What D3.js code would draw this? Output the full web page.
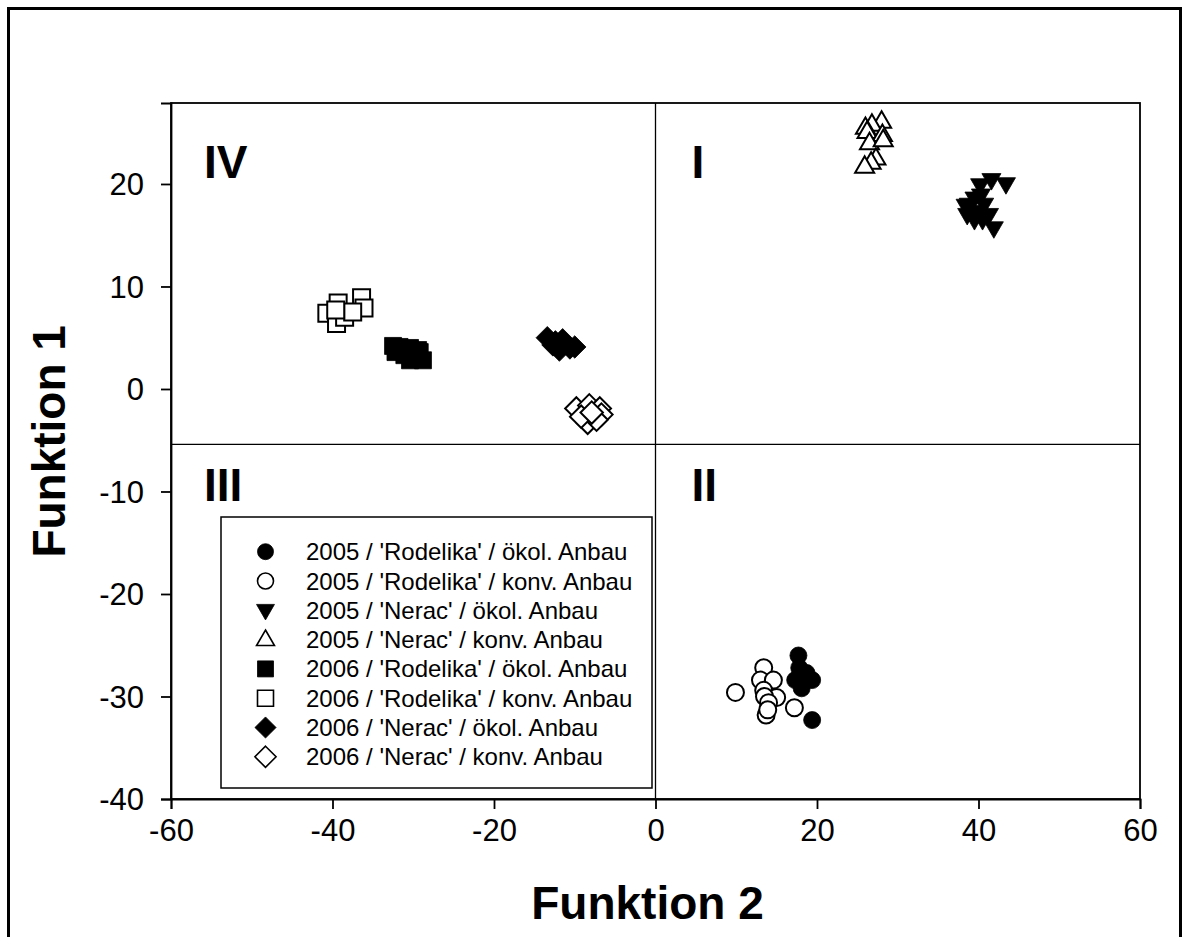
<!DOCTYPE html>
<html>
<head>
<meta charset="utf-8">
<script src="https://cdn.jsdelivr.net/npm/d3@7"></script>
<style>
  html, body { margin: 0; padding: 0; background: #fff; }
  svg { display: block; font-family: "Liberation Sans", Arial, sans-serif; }
</style>
</head>
<body>
<svg id="chart" width="1189" height="937"></svg>
<script>
// Discriminant scores (Funktion 2 on x, Funktion 1 on y) per group
const rodelika05Oeko = [[17.7,-26.0],[17.8,-27.2],[18.7,-27.7],[17.3,-28.4],[19.4,-28.4],[18.1,-29.2],[19.4,-32.3]];
const rodelika05Konv = [[9.9,-29.6],[13.4,-27.2],[13.0,-28.4],[14.6,-28.4],[13.4,-29.4],[15.0,-30.1],[13.5,-30.0],[14.0,-30.6],[13.7,-31.8],[17.2,-31.1],[13.9,-31.3]];
const nerac05Oeko = [[41.6,20.4],[40.2,19.9],[43.4,20.0],[39.5,18.6],[38.8,18.0],[40.7,18.0],[40.3,18.9],[39.8,17.3],[38.6,17.0],[41.3,17.0],[39.5,16.5],[40.5,16.5],[41.9,15.7],[38.4,17.9]];
const nerac05Konv = [[28.0,26.1],[26.8,25.8],[26.0,25.5],[26.2,25.1],[28.1,24.8],[26.5,24.0],[28.2,24.3],[27.3,22.5],[26.7,22.1],[25.9,21.7]];
const rodelika06Oeko = [[-32.5,4.2],[-31.7,4.1],[-30.4,4.0],[-29.4,3.8],[-32.2,3.6],[-31.1,3.3],[-29.8,3.1],[-28.8,2.8],[-30.4,2.8],[-29.2,3.6]];
const rodelika06Konv = [[-40.7,7.4],[-39.3,8.4],[-39.5,7.4],[-36.4,8.9],[-36.1,7.9],[-39.5,6.4],[-38.5,7.0],[-37.5,7.5],[-39.6,7.7]];
const nerac06Oeko = [[-13.4,5.0],[-12.7,4.3],[-11.5,4.8],[-10.0,4.1],[-11.9,3.8],[-10.6,4.0],[-12.4,4.6]];
const nerac06Konv = [[-9.8,-1.9],[-8.2,-1.6],[-6.9,-1.9],[-6.7,-2.5],[-8.4,-3.3],[-7.3,-3.0],[-9.2,-2.7],[-7.9,-2.3]];

const seriesNames = [
  "2005 / 'Rodelika' / ökol. Anbau",
  "2005 / 'Rodelika' / konv. Anbau",
  "2005 / 'Nerac' / ökol. Anbau",
  "2005 / 'Nerac' / konv. Anbau",
  "2006 / 'Rodelika' / ökol. Anbau",
  "2006 / 'Rodelika' / konv. Anbau",
  "2006 / 'Nerac' / ökol. Anbau",
  "2006 / 'Nerac' / konv. Anbau"
];
const seriesData = [rodelika05Oeko, rodelika05Konv, nerac05Oeko, nerac05Konv,
                    rodelika06Oeko, rodelika06Konv, nerac06Oeko, nerac06Konv];
const seriesShape = ["circle","circle","triDown","triUp","square","square","diamond","diamond"];
const seriesFilled = [true,false,true,false,true,false,true,false];

const xTicks = [-60,-40,-20,0,20,40,60];
const yTicks = [-40,-30,-20,-10,0,10,20];
const xDomain = [-60, 60];
const yDomain = [-40, 27.9];
const quadrantY = -5.4;   // horizontal divider
const quadrantX = 0;      // vertical divider
const quadrantLabels = [
  {t: "IV", x: -60, y: 27.9, row: 0},
  {t: "I",  x: 0,   y: 27.9, row: 0},
  {t: "III",x: -60, y: -5.4, row: 1},
  {t: "II", x: 0,   y: -5.4, row: 1}
];

const svg = d3.select("#chart");
const plotL = 171, plotR = 1140, plotT = 103, plotB = 799;

const x = d3.scaleLinear().domain(xDomain).range([plotL, plotR]);
const y = d3.scaleLinear().domain(yDomain).range([plotB, plotT]);

// outer frame
svg.append("rect").attr("x", 8.5).attr("y", 8.5).attr("width", 1172).attr("height", 960)
  .attr("fill", "none").attr("stroke", "#000").attr("stroke-width", 3);

// plot frame
svg.append("rect").attr("x", plotL).attr("y", plotT).attr("width", plotR - plotL).attr("height", plotB - plotT)
  .attr("fill", "none").attr("stroke", "#000").attr("stroke-width", 1.8);

// quadrant dividers
svg.append("line").attr("x1", x(quadrantX)).attr("x2", x(quadrantX)).attr("y1", plotT).attr("y2", plotB)
  .attr("stroke", "#000").attr("stroke-width", 1.3);
svg.append("line").attr("x1", plotL).attr("x2", plotR).attr("y1", y(quadrantY)).attr("y2", y(quadrantY))
  .attr("stroke", "#000").attr("stroke-width", 1.3);

// axes (plain hyphen-minus in tick labels)
const fmt = d => String(d);
const xAxis = d3.axisBottom(x).tickValues(xTicks).tickSize(10).tickPadding(10).tickFormat(fmt);
const yAxis = d3.axisLeft(y).tickValues(yTicks).tickSize(10).tickPadding(17).tickFormat(fmt);

const gx = svg.append("g").attr("transform", `translate(0,${plotB})`).call(xAxis);
const gy = svg.append("g").attr("transform", `translate(${plotL},0)`).call(yAxis);
[gx, gy].forEach(g => {
  g.select(".domain").attr("stroke", "#000").attr("stroke-width", 1.8);
  g.selectAll(".tick line").attr("stroke", "#000").attr("stroke-width", 1.8);
  g.selectAll(".tick text").attr("fill", "#000")
    .style("font-family", "'Liberation Sans', Arial, sans-serif").style("font-size", "31px");
});
gx.selectAll(".tick text").attr("dy", "0.72em");
gy.selectAll(".tick text").attr("dy", "0.35em");

// axis titles
svg.append("text").attr("x", x(0) - 8).attr("y", 919).attr("text-anchor", "middle")
  .style("font-size", "46px").style("font-weight", "bold").text("Funktion 2");
svg.append("text").attr("transform", `translate(65,${y(-5.4) - 3}) rotate(-90)`).attr("text-anchor", "middle")
  .style("font-size", "46px").style("font-weight", "bold").text("Funktion 1");

// quadrant labels
svg.selectAll("text.quad").data(quadrantLabels).join("text").attr("class", "quad")
  .attr("x", d => x(d.x) + (d.x === 0 ? 36 : 33))
  .attr("y", d => y(d.y) + (d.row === 0 ? 75 : 57))
  .style("font-size", "46px").style("font-weight", "bold").text(d => d.t);

// marker shapes
function shapePath(shape, s) {
  switch (shape) {
    case "circle": return d3.symbol(d3.symbolCircle, Math.PI * s * s / 4)();
    case "square": return `M${-s/2},${-s/2}h${s}v${s}h${-s}Z`;
    case "diamond": { const h = s * 0.66; return `M0,${-h}L${h},0L0,${h}L${-h},0Z`; }
    case "triUp": { const w = s * 1.12, hh = s * 0.97; return `M0,${-hh*0.62}L${w/2},${hh*0.38}L${-w/2},${hh*0.38}Z`; }
    case "triDown": { const w = s * 1.12, hh = s * 0.97; return `M0,${hh*0.62}L${w/2},${-hh*0.38}L${-w/2},${-hh*0.38}Z`; }
  }
}
const markerSize = 17;

seriesData.forEach((data, i) => {
  svg.append("g").selectAll("path").data(data).join("path")
    .attr("transform", d => `translate(${x(d[0])},${y(d[1])})`)
    .attr("d", shapePath(seriesShape[i], markerSize))
    .attr("fill", seriesFilled[i] ? "#000" : "#fff")
    .attr("stroke", "#000").attr("stroke-width", seriesFilled[i] ? 0.8 : 2);
});

// legend
const lg = svg.append("g");
lg.append("rect").attr("x", 221).attr("y", 517).attr("width", 431).attr("height", 271)
  .attr("fill", "#fff").attr("stroke", "#000").attr("stroke-width", 1.5);
seriesNames.forEach((name, i) => {
  const cy = 551.7 + i * 29.3;
  lg.append("path").attr("transform", `translate(265.5,${cy})`)
    .attr("d", shapePath(seriesShape[i], 16))
    .attr("fill", seriesFilled[i] ? "#000" : "#fff")
    .attr("stroke", "#000").attr("stroke-width", seriesFilled[i] ? 0.8 : 1.6);
  lg.append("text").attr("x", 306).attr("y", cy + 8.5)
    .style("font-size", "24px").text(name);
});
</script>
</body>
</html>
